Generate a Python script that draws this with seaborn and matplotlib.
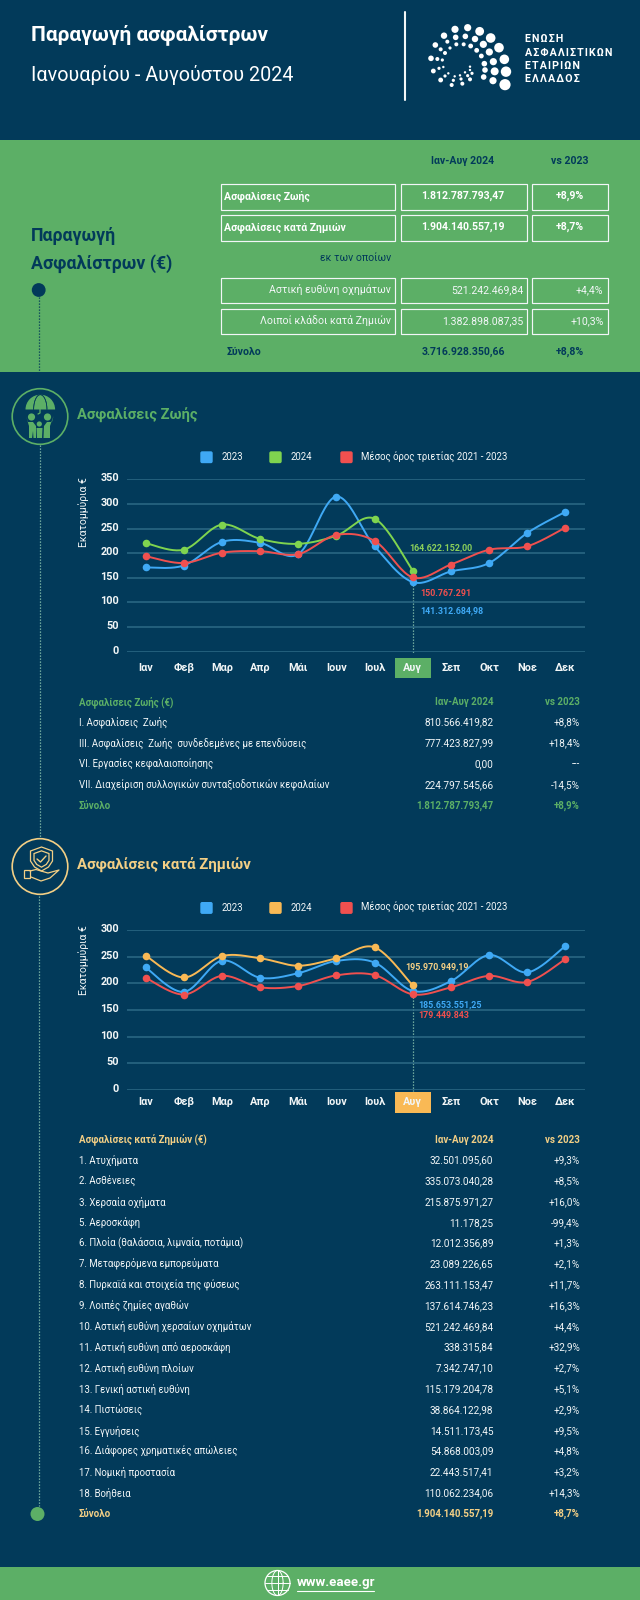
import numpy as np
import pandas as pd
import matplotlib
matplotlib.use('Agg')
import matplotlib.pyplot as plt
from matplotlib.patches import Rectangle, Circle, Wedge, Polygon, FancyBboxPatch
from matplotlib.transforms import ScaledTranslation
import seaborn as sns

W, H = 640, 1600
NAVY = '#023A5A'
GREEN = '#5CAF66'
BLUE = '#3FA9F5'
LIME = '#7FD44F'
AMBER = '#F9B955'
RED = '#F0504F'
GOLD = '#F3CF85'
GRID = '#2C6A86'
DOT = '#8CC7B0'
WHITE = '#F2F6F7'

months = ['Ιαν', 'Φεβ', 'Μαρ', 'Απρ', 'Μάι', 'Ιουν', 'Ιουλ', 'Αυγ', 'Σεπ', 'Οκτ', 'Νοε', 'Δεκ']
legend_labels = ['2023', '2024', 'Μέσος όρος τριετίας 2021 - 2023']

life_2023 = [171, 175, 223, 221, 198, 315, 214, 141.3, 163, 180, 241, 284]
life_2024 = [220.5, 207, 258, 229, 219, 235.5, 270, 164.6]
life_avg = [194, 180, 201, 204, 198, 237, 225, 150.8, 177, 207, 214, 252]

nonlife_2023 = [230, 184, 242.5, 210.5, 219, 242, 239, 185.7, 204, 253, 220.5, 270]
nonlife_2024 = [252, 211, 251, 247, 233, 247, 267.5, 196]
nonlife_avg = [210.5, 179, 214, 192.5, 195, 215, 215.5, 179.4, 192.5, 214, 202.5, 245.5]

summary_rows = ['Ασφαλίσεις Ζωής', 'Ασφαλίσεις κατά Ζημιών', 'Αστική ευθύνη οχημάτων', 'Λοιποί κλάδοι κατά Ζημιών']
summary_vals = ['1.812.787.793,47', '1.904.140.557,19', '521.242.469,84', '1.382.898.087,35']
summary_pct = ['+8,9%', '+8,7%', '+4,4%', '+10,3%']

life_rows = ['I. Ασφαλίσεις  Ζωής', 'III. Ασφαλίσεις  Ζωής  συνδεδεμένες με επενδύσεις',
             'VI. Εργασίες κεφαλαιοποίησης', 'VII. Διαχείριση συλλογικών συνταξιοδοτικών κεφαλαίων']
life_vals = ['810.566.419,82', '777.423.827,99', '0,00', '224.797.545,66']
life_pct = ['+8,8%', '+18,4%', '---', '-14,5%']

nonlife_rows = ['1. Ατυχήματα', '2. Ασθένειες', '3. Χερσαία οχήματα', '5. Αεροσκάφη',
                '6. Πλοία (θαλάσσια, λιμναία, ποτάμια)', '7. Μεταφερόμενα εμπορεύματα',
                '8. Πυρκαϊά και στοιχεία της φύσεως', '9. Λοιπές ζημίες αγαθών',
                '10. Αστική ευθύνη χερσαίων οχημάτων', '11. Αστική ευθύνη από αεροσκάφη',
                '12. Αστική ευθύνη πλοίων', '13. Γενική αστική ευθύνη', '14. Πιστώσεις',
                '15. Εγγυήσεις', '16. Διάφορες χρηματικές απώλειες', '17. Νομική προστασία', '18. Βοήθεια']
nonlife_vals = ['32.501.095,60', '335.073.040,28', '215.875.971,27', '11.178,25', '12.012.356,89',
                '23.089.226,65', '263.111.153,47', '137.614.746,23', '521.242.469,84', '338.315,84',
                '7.342.747,10', '115.179.204,78', '38.864.122,98', '14.511.173,45', '54.868.003,09',
                '22.443.517,41', '110.062.234,06']
nonlife_pct = ['+9,3%', '+8,5%', '+16,0%', '-99,4%', '+1,3%', '+2,1%', '+11,7%', '+16,3%', '+4,4%',
               '+32,9%', '+2,7%', '+5,1%', '+2,9%', '+9,5%', '+4,8%', '+3,2%', '+14,3%']

logo_dots = [(105, 43, 9), (143, 38, 9), (179, 49, 11), (212, 69, 12), (237, 98, 12), (253, 133, 12),
             (258, 170, 13), (255, 209, 14), (72, 62, 8), (107, 67, 7), (136, 64, 7), (165, 72, 8),
             (190, 88, 9), (208, 111, 9), (220, 140, 9), (224, 169, 10), (219, 197, 9), (46, 90, 7),
             (82, 80, 5), (109, 88, 5), (131, 88, 5), (152, 93, 6), (170, 106, 6), (184, 123, 6),
             (193, 146, 7), (195, 165, 7), (191, 186, 7), (33, 130, 7), (62, 103, 5), (75, 114, 5),
             (90, 99, 4), (52, 132, 5), (67, 135, 4), (40, 168, 6), (57, 160, 4), (70, 156, 3),
             (62, 195, 6), (75, 183, 4), (85, 175, 3), (95, 210, 5), (100, 196, 4), (104, 184, 3),
             (127, 206, 5), (123, 192, 4), (120, 181, 3), (150, 193, 5), (143, 182, 4), (135, 172, 3),
             (156, 175, 4), (150, 165, 3), (150, 155, 3)]

sns.set_theme(style='white')
plt.rcParams['font.family'] = ['Roboto', 'DejaVu Sans']

fig = plt.figure(figsize=(W / 100, H / 100), dpi=100, facecolor=NAVY)
bg = fig.add_axes([0, 0, 1, 1])
bg.set_xlim(0, W)
bg.set_ylim(H, 0)
bg.axis('off')


def txt(x, y, s, size=7.6, color=WHITE, weight='normal', ha='left', **kw):
    return bg.text(x, y, s, fontsize=size, color=color, fontweight=weight, ha=ha, va='center', **kw)


def dotted(x, y0, y1, color=DOT):
    bg.plot([x, x], [y0, y1], color=color, lw=0.9, ls=(0, (1, 1.4)), zorder=1)


def smooth(x, y, n=24):
    # Catmull-Rom curve through the points, same look as a "smoothed line" in a spreadsheet chart
    x = np.asarray(x, float)
    y = np.asarray(y, float)
    px = np.r_[x[0], x, x[-1]]
    py = np.r_[y[0], y, y[-1]]
    xs, ys = [], []
    t = np.linspace(0, 1, n)
    for i in range(1, len(px) - 2):
        for src, dst in ((px, xs), (py, ys)):
            a, b, c, d = src[i - 1], src[i], src[i + 1], src[i + 2]
            dst.append(0.5 * (2 * b + (c - a) * t + (2 * a - 5 * b + 4 * c - d) * t ** 2
                              + (3 * b - a - 3 * c + d) * t ** 3))
    return np.concatenate(xs), np.concatenate(ys)


def legend_row(y, color_2024):
    for x0, tx, c, lab in zip((200, 269, 340), (222, 291, 361), (BLUE, color_2024, RED), legend_labels):
        bg.add_patch(FancyBboxPatch((x0 + 1, y - 5), 11, 10.5, boxstyle='round,pad=0,rounding_size=1.2',
                                    fc=c, ec=c, lw=1))
        txt(tx, y, lab, size=6.9)


def chart(top, bottom, ymax, step, series, colors, label_y, label_pad, box_color, box_y):
    ax = fig.add_axes([126.5 / W, 1 - bottom / H, 458 / W, (bottom - top) / H], facecolor='none')
    xs = np.arange(len(months))
    for vals, c in zip(series, colors):
        sx, sy = smooth(xs[:len(vals)], vals)
        sns.lineplot(x=sx, y=sy, color=c, lw=1.4, ax=ax, zorder=3, estimator=None, sort=False)
        sns.scatterplot(x=xs[:len(vals)], y=vals, color=c, s=30, linewidth=0, ax=ax, zorder=4)
    ax.set_xlim(-0.5, 11.5)
    ax.set_ylim(0, ymax)
    ax.set_yticks(np.arange(0, ymax + 1, step))
    ax.set_xticks(xs, months)
    ax.grid(axis='y', color=GRID, lw=1.1)
    ax.set_axisbelow(True)
    for s in ax.spines.values():
        s.set_visible(False)
    ax.tick_params(axis='both', length=0, colors=WHITE, labelsize=7.8)
    ax.tick_params(axis='x', pad=label_pad)
    ax.tick_params(axis='y', pad=5.5)
    shift = ScaledTranslation(0, 2 / 100, fig.dpi_scale_trans)
    for t in ax.get_yticklabels():
        t.set_fontweight('bold')
        t.set_transform(t.get_transform() + shift)
    for t in ax.get_xticklabels():
        t.set_fontweight('bold')
    ax.set_ylabel('')
    txt(84, label_y, 'Εκατομμύρια €', size=7.5, rotation=90, ha='center')
    # highlighted month
    px = 126.5 + (7 + 0.5) * 458 / 12
    bg.add_patch(Rectangle((px - 18, box_y[0]), 36.5, box_y[1] - box_y[0], fc=box_color, ec='none', zorder=1))
    val = min(s[7] for s in series)
    dotted(px, top + (bottom - top) * (1 - val / ymax), bottom + 1)
    return ax


def table(y0, step, head, rows, vals, pct, total, color):
    hdr = [head, 'Ιαν-Αυγ 2024', 'vs 2023']
    txt(78.8, y0, hdr[0], size=7, color=color, weight='bold')
    txt(493.5, y0, hdr[1], size=7, color=color, weight='bold', ha='right')
    txt(580, y0, hdr[2], size=7, color=color, weight='bold', ha='right')
    for i, (r, v, p) in enumerate(zip(rows, vals, pct), start=1):
        y = y0 + i * step
        txt(78.8, y, r, size=6.9)
        txt(493.5, y, v, size=7.2, ha='right')
        txt(580, y, p, size=7.2, ha='right')
    y = y0 + (len(rows) + 1) * step
    txt(78.8, y, 'Σύνολο', size=7, color=color, weight='bold')
    txt(493.5, y, total[0], size=7, color=color, weight='bold', ha='right')
    txt(580, y, total[1], size=7, color=color, weight='bold', ha='right')


# header
txt(31, 35, 'Παραγωγή ασφαλίστρων', size=15, color='white', weight='bold')
txt(31, 75, 'Ιανουαρίου - Αυγούστου 2024', size=14.2, color='white')
bg.plot([405, 405], [12, 100], color=WHITE, lw=1.5)
for x, y, r in logo_dots:
    bg.add_patch(Circle((420 + x / 3, 15 + y / 3), r / 3 * 1.2, fc='white', ec='none'))
for y, s in zip((39.5, 53, 66, 79), ('ΕΝΩΣΗ', 'ΑΣΦΑΛΙΣΤΙΚΩΝ', 'ΕΤΑΙΡΙΩΝ', 'ΕΛΛΑΔΟΣ')):
    txt(525, y, '\u200a'.join(s), size=7.7, color='white', weight='bold')

# summary band
bg.add_patch(Rectangle((0, 140), W, 231.5, fc=GREEN, ec='none', zorder=0))
txt(463, 161, 'Ιαν-Αυγ 2024', color=NAVY, weight='bold', ha='center')
txt(570, 161, 'vs 2023', color=NAVY, weight='bold', ha='center')
txt(31, 236, 'Παραγωγή', size=12.8, color=NAVY, weight='bold')
txt(31, 264, 'Ασφαλίστρων (€)', size=12.8, color=NAVY, weight='bold')
bg.add_patch(Circle((38.7, 290), 6.9, fc=NAVY, ec='none', zorder=2))
dotted(39, 297, 371, NAVY)

row_y = [(183.5, 209.5), (215, 240.5), (277.5, 303), (308.5, 334)]
for i, (y0, y1) in enumerate(row_y):
    for x0, x1 in ((220.5, 395), (400.5, 527), (532, 607.5)):
        bg.add_patch(Rectangle((x0, y0), x1 - x0, y1 - y0, fc='none', ec=WHITE, lw=0.85, zorder=2))
    ym = (y0 + y1) / 2 - 0.5
    if i < 2:
        txt(224.5, ym, summary_rows[i], color='white', weight='bold')
        txt(463, ym, summary_vals[i], color='white', weight='bold', ha='center')
        txt(570, ym, summary_pct[i], color='white', weight='bold', ha='center')
    else:
        txt(391, ym, summary_rows[i], color=WHITE, ha='right')
        txt(523, ym, summary_vals[i], color=WHITE, ha='right')
        txt(603.5, ym, summary_pct[i], color=WHITE, ha='right')
txt(356, 258, 'εκ των οποίων', color=NAVY, ha='center')
txt(227, 352, 'Σύνολο', color=NAVY, weight='bold')
txt(463, 352, '3.716.928.350,66', color=NAVY, weight='bold', ha='center')
txt(570, 352, '+8,8%', color=NAVY, weight='bold', ha='center')

# timeline
dotted(39.5, 445, 838)
dotted(38.5, 893, 1506)
bg.add_patch(Circle((37.5, 1514), 7, fc=GREEN, ec='none', zorder=2))

# life icon: umbrella over a family
bg.add_patch(Circle((40, 416.5), 27.8, fc=NAVY, ec=GREEN, lw=1.2, zorder=2))
bg.add_patch(Wedge((40.3, 409.5), 14.8, 180, 360, fc=GREEN, ec='none', zorder=3))
for w in (0.45, -0.45):
    a = np.linspace(np.pi, 2 * np.pi, 30)
    bg.plot(40.3 + 14.8 * w * np.cos(a), 409.5 + 14.8 * np.sin(a), color=NAVY, lw=0.5, zorder=4)
bg.plot([40, 40, 38], [409, 413, 414], color=GREEN, lw=0.9, zorder=3)
for x, y, r in ((31.5, 417, 3.6), (47.5, 417, 3.6), (39.3, 424, 2.6)):
    bg.add_patch(Circle((x, y), r, fc=GREEN, ec='none', zorder=3))
bg.add_patch(Polygon([(26, 416), (28, 422), (33, 422), (36, 426), (36, 438), (33.5, 438), (33, 431), (32, 438),
                      (29, 438), (29, 426)], fc=GREEN, ec='none', zorder=3))
bg.add_patch(Polygon([(53.5, 416), (52, 422), (47, 422), (44, 426), (43.5, 438), (50, 438), (50, 426)],
                     fc=GREEN, ec='none', zorder=3))
bg.add_patch(Polygon([(36.5, 428), (42.5, 428), (42, 438), (37, 438)], fc=GREEN, ec='none', zorder=3))
txt(77, 415, 'Ασφαλίσεις Ζωής', size=10.6, color=GREEN, weight='bold')

# non-life icon: shield over a hand
bg.add_patch(Circle((40, 866.5), 27.8, fc=NAVY, ec=GOLD, lw=1.2, zorder=2))
for sc in (1, 0.68):
    sx = np.array([0, 11, 11, 7, 0, -7, -11, -11]) * sc + 41.5
    sy = np.array([-12, -8, 2, 8, 12, 8, 2, -8]) * sc + 859
    bg.add_patch(Polygon(np.c_[sx, sy], fc='none', ec=GOLD, lw=0.9, zorder=3))
bg.plot([37, 40.5, 46], [859, 862, 856], color=GOLD, lw=1, zorder=3)
bg.add_patch(Rectangle((24, 870), 6, 7.5, fc='none', ec=GOLD, lw=0.9, zorder=3))
bg.plot([30, 36, 41, 48, 59, 50, 41, 31], [871, 869.5, 871, 873, 870, 878, 881, 877], color=GOLD, lw=0.9, zorder=3)
txt(77, 864, 'Ασφαλίσεις κατά Ζημιών', size=10.8, color=GOLD, weight='bold')

# life section
legend_row(457, LIME)
chart(479.3, 651.7, 350, 50, (life_2023, life_2024, life_avg), (BLUE, LIME, RED), 512, 7.8, GREEN, (658, 678))
txt(409.5, 548, '164.622.152,00', size=6.4, color='#8BD05A', weight='bold')
txt(420, 593.7, '150.767.291', size=6.4, color=RED, weight='bold')
txt(420, 611, '141.312.684,98', size=6.4, color=BLUE, weight='bold')
table(701.7, 20.8, 'Ασφαλίσεις Ζωής (€)', life_rows, life_vals, life_pct, ('1.812.787.793,47', '+8,9%'), GREEN)

# non-life section
legend_row(907.7, AMBER)
chart(930, 1090, 300, 50, (nonlife_2023, nonlife_2024, nonlife_avg), (BLUE, AMBER, RED), 960, 4.8, AMBER, (1092, 1112.5))
txt(405, 966.3, '195.970.949,19', size=6.4, color=GOLD, weight='bold')
txt(418, 1005, '185.653.551,25', size=6.4, color=BLUE, weight='bold')
txt(418, 1015.7, '179.449.843', size=6.4, color=RED, weight='bold')
table(1139.7, 20.8, 'Ασφαλίσεις κατά Ζημιών (€)', nonlife_rows, nonlife_vals, nonlife_pct,
      ('1.904.140.557,19', '+8,7%'), GOLD)

# footer
bg.add_patch(Rectangle((0, 1566.5), W, 33.5, fc=GREEN, ec='none', zorder=0))
gx, gy, gr = 277.5, 1583, 12.5
bg.add_patch(Circle((gx, gy), gr, fc='none', ec='white', lw=0.9))
for w in (0.45, 0.0):
    a = np.linspace(0, 2 * np.pi, 60)
    bg.plot(gx + gr * w * np.cos(a), gy + gr * np.sin(a), color='white', lw=0.7)
for d in (-7, 0, 7):
    half = np.sqrt(gr ** 2 - d ** 2)
    bg.plot([gx - half, gx + half], [gy + d, gy + d], color='white', lw=0.7)
txt(297, 1582.5, 'www.eaee.gr', size=9.5, color='white', weight='bold')
bg.plot([297, 373.5], [1590.5, 1590.5], color='white', lw=0.8)

fig.savefig('out.png', dpi=100, facecolor=NAVY)
